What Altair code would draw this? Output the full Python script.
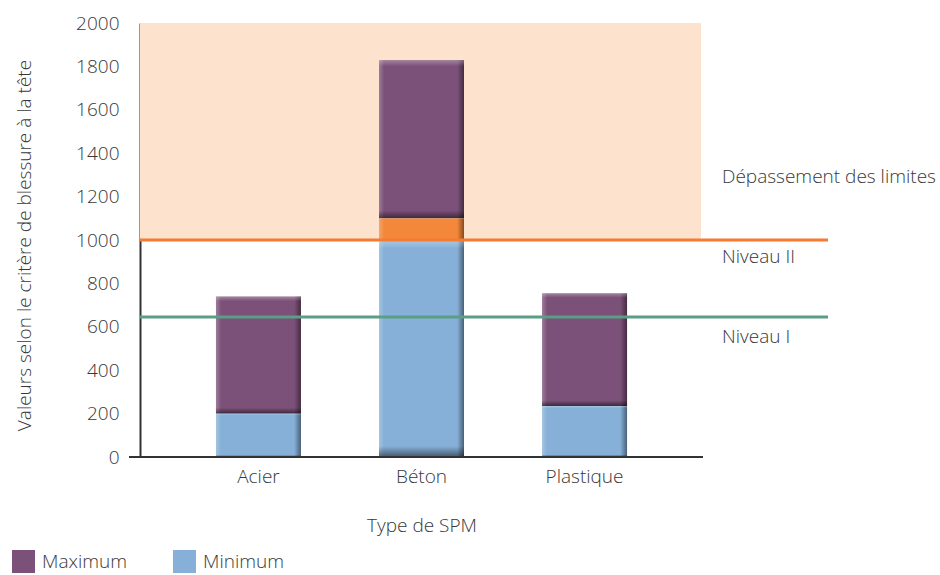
import altair as alt
import pandas as pd

categories = ["Acier", "Béton", "Plastique"]
minimum = [200, 1000, 235]
depassement = [0, 100, 0]
maximum = [740, 1830, 755]

niveau_1 = 645
niveau_2 = 1000
limite_haute = 2000

rows = []
for c, mn, dp, mx in zip(categories, minimum, depassement, maximum):
    rows.append({"type": c, "serie": "Minimum", "y0": 0, "y1": mn})
    rows.append({"type": c, "serie": "Maximum", "y0": mn + dp, "y1": mx})
bars_df = pd.DataFrame(rows)
orange_df = pd.DataFrame([
    {"type": c, "y0": mn, "y1": mn + dp}
    for c, mn, dp in zip(categories, minimum, depassement) if dp > 0
])
all_df = pd.concat([bars_df.drop(columns="serie"), orange_df], ignore_index=True)

FONT = "Open Sans"
TXT = "#383838"
FS = 19
FW = 300
W, H = 563, 434

xenc = alt.X("type:N", sort=categories, title="Type de SPM",
             scale=alt.Scale(paddingInner=0.477, paddingOuter=0.465),
             axis=alt.Axis(labelAngle=0, ticks=False, domain=False, labelPadding=10,
                           labelFontSize=FS, labelFont=FONT, labelColor=TXT,
                           labelFontWeight=FW,
                           titleFontSize=19, titleFont=FONT, titleColor=TXT,
                           titleFontWeight=FW, titleY=59))
yscale = alt.Scale(domain=[0, limite_haute], nice=False)

shade = alt.Chart(pd.DataFrame({"a": [niveau_2], "b": [limite_haute]})).mark_rect(
    color="#FDE3CE").encode(
    x=alt.value(0), x2=alt.value(561),
    y=alt.Y("a:Q", scale=yscale), y2="b:Q")

base = alt.Chart(bars_df).mark_bar(size=85).encode(
    x=xenc,
    y=alt.Y("y0:Q", scale=yscale,
            title="Valeurs selon le critère de blessure à la tête",
            axis=alt.Axis(values=list(range(0, 2001, 200)), format="d", grid=False,
                          ticks=False, domainColor="#333333", domainWidth=2,
                          labelPadding=21,
                          labelFontSize=FS, labelFont=FONT, labelColor=TXT,
                          labelFontWeight=FW,
                          titleFontSize=19, titleFont=FONT, titleColor=TXT,
                          titleFontWeight=FW, titleX=-116, titleY=222,
                          titleBaseline="middle")),
    y2="y1:Q",
    color=alt.Color("serie:N",
                    scale=alt.Scale(domain=["Maximum", "Minimum"],
                                    range=["#7C5179", "#86B0D8"]),
                    legend=alt.Legend(title=None, orient="none", legendX=-128, legendY=527,
                                      direction="horizontal", symbolType="square",
                                      symbolSize=529, symbolStrokeWidth=0,
                                      symbolOpacity=1, labelFontSize=FS, labelFont=FONT,
                                      labelFontWeight=FW,
                                      labelColor=TXT, labelOffset=7, columnPadding=46)),
)

orange = alt.Chart(orange_df).mark_bar(size=85, color="#F3873A").encode(
    x=alt.X("type:N", sort=categories), y=alt.Y("y0:Q", scale=yscale), y2="y1:Q")

hgrad = alt.LinearGradient(
    gradient="linear", x1=0, x2=1, y1=0, y2=0,
    stops=[alt.GradientStop(color="rgba(255,255,255,0.25)", offset=0),
           alt.GradientStop(color="rgba(255,255,255,0)", offset=0.06),
           alt.GradientStop(color="rgba(0,0,0,0)", offset=0.92),
           alt.GradientStop(color="rgba(0,0,0,0.45)", offset=1)])
vgrad = alt.LinearGradient(
    gradient="linear", x1=0, x2=0, y1=0, y2=1,
    stops=[alt.GradientStop(color="rgba(255,255,255,0.3)", offset=0),
           alt.GradientStop(color="rgba(255,255,255,0)", offset=0.04),
           alt.GradientStop(color="rgba(0,0,0,0)", offset=0.95),
           alt.GradientStop(color="rgba(0,0,0,0.5)", offset=1)])

hov = alt.Chart(all_df).mark_bar(size=85, fill=hgrad).encode(
    x=alt.X("type:N", sort=categories), y=alt.Y("y0:Q", scale=yscale), y2="y1:Q")
vov = alt.Chart(all_df).mark_bar(size=85, fill=vgrad).encode(
    x=alt.X("type:N", sort=categories), y=alt.Y("y0:Q", scale=yscale), y2="y1:Q")

xline = alt.Chart(pd.DataFrame({"v": [0]})).mark_rule(color="#333333", strokeWidth=2).encode(
    x=alt.value(-11), x2=alt.value(W), y=alt.Y("v:Q", scale=yscale))

rule2 = alt.Chart(pd.DataFrame({"v": [niveau_2]})).mark_rule(color="#F47B2F", strokeWidth=3).encode(
    x=alt.value(0), x2=alt.value(688), y=alt.Y("v:Q", scale=yscale))
rule1 = alt.Chart(pd.DataFrame({"v": [niveau_1]})).mark_rule(color="#5B9E86", strokeWidth=3).encode(
    x=alt.value(0), x2=alt.value(688), y=alt.Y("v:Q", scale=yscale))

def label(txt, ypix):
    return alt.Chart(pd.DataFrame({"t": [txt]})).mark_text(
        align="left", baseline="middle", fontSize=FS, font=FONT, fontWeight=FW,
        color=TXT).encode(
        text="t:N", x=alt.value(582), y=alt.value(ypix))

chart = alt.layer(
    shade, base, orange, hov, vov, xline, rule2, rule1,
    label("Dépassement des limites", 154),
    label("Niveau II", 234),
    label("Niveau I", 314),
).properties(
    width=W, height=H,
    autosize=alt.AutoSizeParams(type="none"),
    padding={"left": 140, "top": 23, "right": 237, "bottom": 118},
).configure_view(stroke=None)

chart.save("out.html", embed_options={"renderer": "svg", "actions": False})
